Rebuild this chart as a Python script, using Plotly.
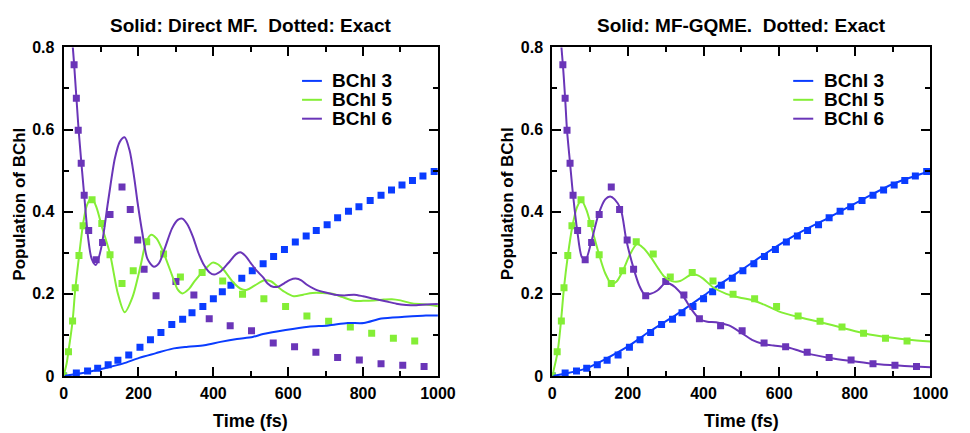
import plotly.graph_objects as go

FONT = "Liberation Sans, Arial, Helvetica, sans-serif"

series_names = ["BChl 3", "BChl 5", "BChl 6"]
series_colors = ["#0a3cff", "#84ee36", "#6a35b8"]
panel_titles = ["Solid: Direct MF.\u00a0 Dotted: Exact", "Solid: MF-GQME.\u00a0 Dotted: Exact"]
x_title = "Time (fs)"
y_title = "Population of BChl"
x_ticks = [0, 200, 400, 600, 800, 1000]
y_ticks = [0, 0.2, 0.4, 0.6, 0.8]
y_ticklabels = ["0", "0.2", "0.4", "0.6", "0.8"]

# ---- Exact results (square markers), same in both panels ----
exact_t_b3 = [0, 34, 64, 91, 119, 145, 174, 204, 232, 260, 289, 318, 343, 372, 400, 424, 447, 476,
              504, 533, 561, 590, 619, 648, 675, 704, 732, 761, 789, 819, 848, 876, 904, 932, 960, 990]
exact_v_b3 = [0.0, 0.007, 0.012, 0.019, 0.027, 0.038, 0.051, 0.070, 0.088, 0.106, 0.125, 0.138, 0.154,
              0.169, 0.188, 0.205, 0.221, 0.238, 0.256, 0.273, 0.291, 0.308, 0.326, 0.341, 0.354, 0.368,
              0.385, 0.401, 0.412, 0.427, 0.440, 0.453, 0.465, 0.476, 0.487, 0.498]

exact_t_b5 = [0, 13, 24, 31, 41, 52, 76, 102, 124, 156, 186, 222, 267, 312, 370, 425, 478, 535, 593,
              650, 708, 766, 823, 881, 938]
exact_v_b5 = [0.0, 0.059, 0.134, 0.215, 0.293, 0.366, 0.429, 0.371, 0.295, 0.225, 0.256, 0.327, 0.297,
              0.241, 0.252, 0.231, 0.199, 0.188, 0.169, 0.146, 0.133, 0.119, 0.104, 0.092, 0.085]

exact_t_b6 = [28, 34, 39, 47, 55, 67, 87, 104, 124, 156, 178, 198, 215, 247, 300, 348, 389, 445, 502,
              560, 617, 674, 732, 790, 848, 906, 963]
exact_v_b6 = [0.758, 0.676, 0.598, 0.518, 0.440, 0.354, 0.283, 0.325, 0.393, 0.460, 0.405, 0.331, 0.260,
              0.195, 0.230, 0.197, 0.139, 0.122, 0.110, 0.080, 0.071, 0.058, 0.045, 0.039, 0.030, 0.026, 0.023]

# ---- Direct MF (solid, left panel) ----
mf_t_b3 = [0, 62, 115, 158, 202, 245, 289, 332, 376, 419, 463, 505, 533, 593, 654, 707, 759, 802, 849,
           910, 968, 1000]
mf_v_b3 = [0.0, 0.009, 0.020, 0.030, 0.044, 0.055, 0.066, 0.071, 0.075, 0.083, 0.090, 0.095, 0.102,
           0.112, 0.120, 0.123, 0.129, 0.129, 0.140, 0.144, 0.147, 0.147]

mf_t_b5 = [0, 8, 13, 24, 31, 41, 52, 62, 75, 88, 102, 124, 145, 163, 184, 206, 220, 234, 248, 263,
           289, 305, 317, 335, 350, 376, 398, 412, 428, 454, 476, 490, 510, 537, 555, 566, 590, 615,
           640, 665, 690, 718, 745, 776, 800, 829, 855, 877, 900, 925, 950, 968, 1000]
mf_v_b5 = [0.0, 0.03, 0.06, 0.134, 0.21, 0.29, 0.37, 0.415, 0.433, 0.41, 0.364, 0.297, 0.20, 0.155,
           0.192, 0.27, 0.325, 0.344, 0.335, 0.309, 0.247, 0.21, 0.201, 0.212, 0.231, 0.258, 0.276,
           0.272, 0.258, 0.227, 0.211, 0.210, 0.22, 0.233, 0.23, 0.222, 0.205, 0.194, 0.198, 0.202,
           0.202, 0.200, 0.192, 0.183, 0.183, 0.184, 0.186, 0.187, 0.184, 0.178, 0.175, 0.174, 0.170]

mf_t_b6 = [0, 15, 28, 40, 55, 65, 75, 86, 100, 119, 137, 150, 163, 176, 189, 197, 210, 224, 241, 255,
           270, 290, 305, 317, 330, 345, 360, 375, 390, 402, 420, 440, 460, 472, 485, 500, 515, 533,
           545, 559, 575, 590, 605, 620, 635, 650, 672, 700, 724, 750, 776, 800, 829, 860, 889, 915,
           942, 970, 1000]
mf_v_b6 = [1.0, 0.90, 0.76, 0.60, 0.44, 0.34, 0.285, 0.270, 0.31, 0.426, 0.53, 0.57, 0.581, 0.55,
           0.48, 0.426, 0.35, 0.285, 0.266, 0.275, 0.31, 0.36, 0.38, 0.383, 0.37, 0.34, 0.30, 0.27,
           0.252, 0.247, 0.255, 0.275, 0.296, 0.301, 0.293, 0.275, 0.257, 0.24, 0.225, 0.217, 0.218,
           0.226, 0.234, 0.237, 0.233, 0.222, 0.211, 0.203, 0.198, 0.196, 0.198, 0.194, 0.188, 0.182,
           0.176, 0.173, 0.172, 0.174, 0.175]

# ---- MF-GQME (solid, right panel) ----
gq_t_b3 = [0, 36, 88, 140, 200, 260, 329, 398, 450, 502, 562, 648, 734, 821, 902, 1000]
gq_v_b3 = [0.0, 0.006, 0.018, 0.041, 0.072, 0.110, 0.150, 0.194, 0.228, 0.259, 0.297, 0.346, 0.387,
           0.430, 0.468, 0.499]

gq_t_b5 = [0, 14, 23, 31, 41, 53, 65, 77, 90, 101, 124, 140, 157, 170, 187, 205, 224, 240, 260, 280,
           295, 316, 338, 368, 385, 399, 425, 460, 500, 528, 562, 597, 648, 709, 769, 829, 890, 941, 1000]
gq_v_b5 = [0.0, 0.058, 0.133, 0.215, 0.292, 0.364, 0.41, 0.428, 0.405, 0.371, 0.295, 0.25, 0.224,
           0.23, 0.257, 0.295, 0.321, 0.312, 0.290, 0.262, 0.243, 0.231, 0.231, 0.247, 0.245, 0.237,
           0.216, 0.200, 0.190, 0.185, 0.173, 0.158, 0.144, 0.131, 0.117, 0.103, 0.094, 0.088, 0.084]

gq_t_b6 = [0, 15, 28, 34, 39, 47, 55, 66, 78, 88, 103, 122, 140, 153, 165, 181, 196, 215, 230, 243,
           260, 278, 299, 312, 325, 347, 368, 390, 410, 433, 467, 500, 528, 558, 585, 614, 644, 674,
           734, 786, 846, 907, 958, 1000]
gq_v_b6 = [1.0, 0.89, 0.758, 0.676, 0.598, 0.518, 0.44, 0.354, 0.29, 0.283, 0.326, 0.393, 0.43,
           0.437, 0.43, 0.406, 0.330, 0.262, 0.22, 0.200, 0.200, 0.208, 0.226, 0.224, 0.216, 0.193,
           0.162, 0.138, 0.132, 0.131, 0.123, 0.105, 0.088, 0.078, 0.074, 0.071, 0.064, 0.055, 0.044,
           0.037, 0.030, 0.026, 0.023, 0.021]

exact_sets = [(exact_t_b3, exact_v_b3), (exact_t_b5, exact_v_b5), (exact_t_b6, exact_v_b6)]
panel_sets = [
    [(mf_t_b3, mf_v_b3), (mf_t_b5, mf_v_b5), (mf_t_b6, mf_v_b6)],
    [(gq_t_b3, gq_v_b3), (gq_t_b5, gq_v_b5), (gq_t_b6, gq_v_b6)],
]

W, H = 970, 433
x_domains = [[61 / W, 444 / W], [561 / W, 948 / W]]
y_domain = [1 - 383 / H, 1 - 41 / H]

fig = go.Figure()
for p in range(2):
    xa = "x" if p == 0 else "x2"
    ya = "y" if p == 0 else "y2"
    for (t, v), c in zip(exact_sets, series_colors):
        fig.add_trace(go.Scatter(x=t, y=v, mode="markers", xaxis=xa, yaxis=ya, showlegend=False,
                                 marker=dict(symbol="square", size=7, color=c, line=dict(width=0)),
                                 cliponaxis=True))
    for (t, v), c in zip(panel_sets[p], series_colors):
        fig.add_trace(go.Scatter(x=t, y=v, mode="lines", xaxis=xa, yaxis=ya, showlegend=False,
                                 line=dict(color=c, width=2, shape="spline", smoothing=0.8)))

tickfont = dict(family=FONT, size=16, color="black", weight="bold")
axis_common = dict(showline=True, linecolor="black", linewidth=2, mirror="allticks",
                   ticks="inside", ticklen=9, tickwidth=2, tickcolor="black",
                   showgrid=False, zeroline=False, tickfont=tickfont)

layout = dict(width=W, height=H, margin=dict(l=0, r=0, t=0, b=0),
              paper_bgcolor="white", plot_bgcolor="white", showlegend=False)
for p in range(2):
    sfx = "" if p == 0 else "2"
    layout["xaxis" + sfx] = dict(axis_common, domain=x_domains[p], range=[0, 1000],
                                 tickvals=x_ticks, anchor="y" + sfx, ticklabelstandoff=2,
                                 minor=dict(dtick=100, tick0=0, ticks="inside", ticklen=5,
                                            tickwidth=2, tickcolor="black", showgrid=False))
    layout["yaxis" + sfx] = dict(axis_common, domain=y_domain, range=[0, 0.8],
                                 tickvals=y_ticks, ticktext=y_ticklabels, anchor="x" + sfx,
                                 ticklabelstandoff=4,
                                 minor=dict(dtick=0.1, tick0=0, ticks="inside", ticklen=5,
                                            tickwidth=2, tickcolor="black", showgrid=False))
fig.update_layout(**layout)

annotations = []
shapes = []
for p in range(2):
    sfx = "" if p == 0 else "2"
    xc = (x_domains[p][0] + x_domains[p][1]) / 2
    annotations.append(dict(text=panel_titles[p], x=xc, y=1 - 18 / H, xref="paper", yref="paper",
                            xanchor="center", yanchor="middle", showarrow=False,
                            font=dict(family=FONT, size=19, color="black", weight="bold")))
    annotations.append(dict(text=x_title, x=xc, y=1 - 417 / H, xref="paper", yref="paper",
                            xanchor="center", yanchor="top", showarrow=False,
                            font=dict(family=FONT, size=18, color="black", weight="bold")))
    annotations.append(dict(text=y_title, x=(16 + 500 * p) / W, y=1 - 204 / H, xref="paper",
                            yref="paper", xanchor="center", yanchor="middle", textangle=-90,
                            showarrow=False,
                            font=dict(family=FONT, size=17, color="black", weight="bold")))
    # legend (drawn as line samples + labels inside the plot area)
    for i, (name, c) in enumerate(zip(series_names, series_colors)):
        yy = 0.898 - i * 0.0575
        shapes.append(dict(type="line", xref="x" + sfx + " domain", yref="y" + sfx + " domain",
                           x0=0.637, x1=0.690, y0=yy, y1=yy, line=dict(color=c, width=2)))
        annotations.append(dict(text=name, x=0.712, y=yy, xref="x" + sfx + " domain",
                                yref="y" + sfx + " domain", xanchor="left", yanchor="middle",
                                showarrow=False,
                                font=dict(family=FONT, size=19, color="black", weight="bold")))

fig.update_layout(annotations=annotations, shapes=shapes)
fig.write_html("out.html")
